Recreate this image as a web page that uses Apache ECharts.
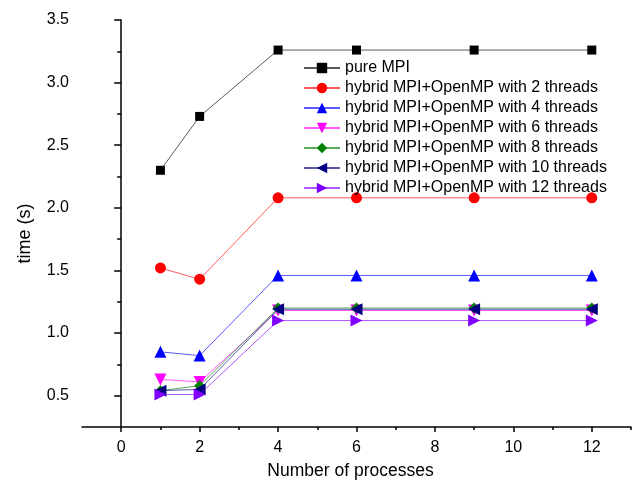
<!DOCTYPE html>
<html>
<head>
<meta charset="utf-8">
<script src="https://cdn.jsdelivr.net/npm/echarts@6/dist/echarts.min.js"></script>
<style>
  html, body { margin: 0; padding: 0; background: #ffffff; }
  #chart { width: 637px; height: 485px; }
</style>
</head>
<body>
<div id="chart"></div>
<script>
// Number of MPI processes (x positions of the measurements)
const processes = [1, 2, 4, 6, 9, 12];

// Run time in seconds per configuration
const pureMPI   = [2.30, 2.73, 3.26, 3.26, 3.26, 3.26];
const threads2  = [1.52, 1.43, 2.08, 2.08, 2.08, 2.08];
const threads4  = [0.85, 0.82, 1.46, 1.46, 1.46, 1.46];
const threads6  = [0.63, 0.61, 1.18, 1.18, 1.18, 1.18];
const threads8  = [0.54, 0.58, 1.20, 1.20, 1.20, 1.20];
const threads10 = [0.54, 0.55, 1.19, 1.19, 1.19, 1.19];
const threads12 = [0.51, 0.51, 1.10, 1.10, 1.10, 1.10];

const seriesNames = [
  'pure MPI',
  'hybrid MPI+OpenMP with 2 threads',
  'hybrid MPI+OpenMP with 4 threads',
  'hybrid MPI+OpenMP with 6 threads',
  'hybrid MPI+OpenMP with 8 threads',
  'hybrid MPI+OpenMP with 10 threads',
  'hybrid MPI+OpenMP with 12 threads'
];

// Axis tick positions and labels
const xLabelValues = [0, 2, 4, 6, 8, 10, 12];
const xMinorValues = [1, 3, 5, 7, 9, 11, 13];
const yLabelValues = [0.5, 1.0, 1.5, 2.0, 2.5, 3.0, 3.5];
const yMinorValues = [0.75, 1.25, 1.75, 2.25, 2.75, 3.25];

const seriesValues = [pureMPI, threads2, threads4, threads6, threads8, threads10, threads12];
const colors  = ['#000000', '#ff0000', '#0000ff', '#ff00ff', '#008000', '#000080', '#8000ff'];
const symbols = ['rect', 'circle', 'triangle', 'triangle', 'diamond', 'triangle', 'triangle'];
const rotates = [0, 0, 0, 180, 0, 90, -90];
const sizes   = [9, 11, 12, 12, 11, 12, 12];

const FONT = 'Liberation Sans, Arial, sans-serif';

const chart = echarts.init(document.getElementById('chart'), null, { renderer: 'canvas' });

const series = seriesValues.map((vals, i) => ({
  name: seriesNames[i],
  type: 'line',
  xAxisIndex: 0,
  yAxisIndex: 0,
  data: processes.map((p, k) => [p, vals[k]]),
  symbol: symbols[i],
  symbolRotate: rotates[i],
  symbolSize: sizes[i],
  showAllSymbol: true,
  color: colors[i],
  lineStyle: { width: 1, color: colors[i], opacity: 0.65 },
  itemStyle: { color: colors[i] },
  emphasis: { disabled: true },
  animation: false,
  z: 3 + i
}));

const option = {
  backgroundColor: '#ffffff',
  animation: false,
  textStyle: { fontFamily: FONT },
  grid: { left: 82, right: 6, top: 20, bottom: 58, containLabel: false },
  legend: {
    orient: 'vertical',
    left: 303,
    top: 59,
    padding: 0,
    itemWidth: 36,
    itemHeight: 13,
    itemGap: 2,
    textStyle: { fontFamily: FONT, fontSize: 16, color: '#000000', lineHeight: 18 },
    data: seriesNames,
    z: 20
  },
  xAxis: [
    {
      type: 'value',
      min: -1,
      max: 13,
      position: 'bottom',
      name: 'Number of processes',
      nameLocation: 'middle',
      nameGap: 35,
      nameTextStyle: { fontFamily: FONT, fontSize: 17.5, color: '#000000', padding: [0, 12, 0, 0] },
      axisLine: { show: true, lineStyle: { color: '#000000', width: 1.5 } },
      axisTick: { show: true, customValues: xLabelValues, inside: false, length: 5, lineStyle: { color: '#000000', width: 1.5 } },
      axisLabel: {
        customValues: xLabelValues,
        margin: 13,
        fontFamily: FONT,
        fontSize: 16,
        color: '#000000',
        formatter: v => String(v)
      },
      splitLine: { show: false }
    },
    {
      type: 'value',
      min: -1,
      max: 13,
      position: 'bottom',
      axisLine: { show: false },
      axisTick: { show: true, customValues: xMinorValues, length: 3, lineStyle: { color: '#000000', width: 1.5 } },
      axisLabel: { show: false },
      splitLine: { show: false }
    }
  ],
  yAxis: [
    {
      type: 'value',
      min: 0.25,
      max: 3.5,
      position: 'left',
      name: 'time (s)',
      nameLocation: 'middle',
      nameGap: 48,
      nameTextStyle: { fontFamily: FONT, fontSize: 18, color: '#000000', padding: [0, 20, 0, 0] },
      axisLine: { show: true, lineStyle: { color: '#000000', width: 1.5 } },
      axisTick: { show: true, customValues: yLabelValues, inside: false, length: 7, lineStyle: { color: '#000000', width: 1.5 } },
      axisLabel: {
        customValues: yLabelValues,
        margin: 13,
        fontFamily: FONT,
        fontSize: 16,
        color: '#000000',
        formatter: v => v.toFixed(1)
      },
      splitLine: { show: false }
    },
    {
      type: 'value',
      min: 0.25,
      max: 3.5,
      position: 'left',
      axisLine: { show: false },
      axisTick: { show: true, customValues: yMinorValues, length: 4, lineStyle: { color: '#000000', width: 1.5 } },
      axisLabel: { show: false },
      splitLine: { show: false }
    }
  ],
  series: series
};

chart.setOption(option);
</script>
</body>
</html>
